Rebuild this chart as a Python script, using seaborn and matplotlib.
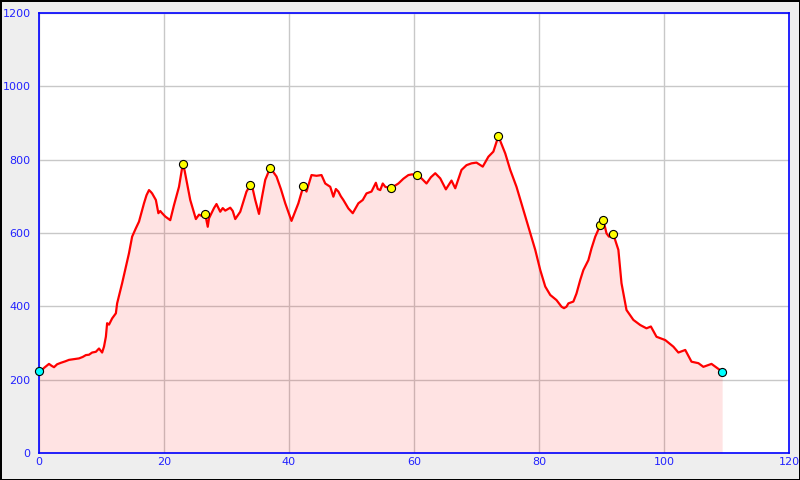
import matplotlib
matplotlib.use("Agg")
import matplotlib.pyplot as plt
import seaborn as sns
import pandas as pd

# Elevation profile
distance = [
    0.0, 0.3, 0.8, 1.6, 2.0, 2.4, 2.9, 3.5, 4.2, 4.8, 5.6, 6.4, 7.0, 7.5, 8.0,
    8.5, 9.1, 9.6, 10.1, 10.4, 10.7, 10.9, 11.2, 11.7, 12.3, 12.5, 13.3, 13.9,
    14.4, 14.9, 15.5, 16.0, 16.8, 17.2, 17.6, 17.9, 18.1, 18.7, 19.1, 19.4,
    19.7, 20.2, 20.6, 21.0, 21.6, 22.4, 23.0, 23.3, 24.2, 25.1, 25.6, 26.0,
    26.6, 27.0, 27.2, 27.6, 28.0, 28.4, 29.0, 29.4, 29.8, 30.2, 30.6, 31.0,
    31.4, 32.2, 33.2, 33.8, 34.2, 34.6, 35.2, 35.7, 36.2, 37.0, 38.0, 38.7,
    39.4, 40.4, 41.5, 42.3, 42.8, 43.6, 44.4, 45.2, 45.8, 46.6, 47.1, 47.5,
    47.9, 48.3, 48.7, 49.5, 50.2, 51.1, 51.8, 52.4, 53.2, 53.9, 54.2, 54.6,
    55.0, 55.4, 56.3, 57.5, 58.3, 59.1, 59.7, 60.5, 61.2, 62.0, 62.7, 63.4,
    64.2, 65.1, 66.0, 66.6, 67.6, 68.4, 69.2, 70.0, 71.0, 71.9, 72.7, 73.5,
    74.6, 75.4, 76.4, 77.5, 78.6, 79.4, 80.2, 81.0, 81.8, 82.8, 83.6, 84.0,
    84.4, 84.7, 85.5, 86.0, 86.6, 87.1, 87.9, 88.4, 89.0, 89.8, 90.3, 90.8,
    91.2, 91.9, 92.7, 93.2, 94.0, 95.1, 96.2, 97.2, 97.9, 98.8, 100.2, 101.5,
    102.3, 103.4, 104.4, 105.5, 106.3, 107.6, 108.5, 109.3,
]
elevation = [
    224, 222, 232, 243, 238, 234, 242, 246, 250, 254, 256, 258, 262, 267, 268,
    274, 276, 285, 274, 290, 317, 354, 350, 367, 381, 408, 463, 508,
    545, 590, 613, 631, 681, 703, 717, 712, 708, 690, 654, 660,
    654, 645, 640, 635, 676, 726, 788, 770, 690, 638, 650, 647,
    651, 617, 640, 654, 668, 679, 658, 668, 661, 665, 669, 660,
    638, 658, 713, 730, 720, 690, 652, 700, 745, 778, 754, 720,
    681, 633, 681, 728, 713, 758, 756, 758, 735, 726, 699, 720,
    713, 700, 690, 667, 654, 681, 690, 708, 713, 737, 720, 717,
    735, 726, 722, 735, 748, 758, 760, 757, 749, 735, 752, 763,
    749, 719, 743, 722, 772, 785, 790, 792, 781, 808, 822, 864,
    817, 772, 726, 663, 599, 554, 499, 454, 431, 417, 399, 395,
    399, 408, 413, 435, 472, 499, 526, 558, 590, 621, 635, 599,
    590, 596, 554, 463, 390, 363, 349, 340, 345, 317, 308, 290,
    274, 281, 249, 245, 235, 243, 232, 222,
]

# Waypoints (yellow) and start/end (cyan)
wp_x = [23.0, 26.6, 33.8, 37.0, 42.3, 56.3, 60.5, 73.5, 89.8, 90.3, 91.9]
wp_y = [788, 651, 730, 778, 728, 722, 757, 864, 621, 635, 596]
end_x = [0.0, 109.3]
end_y = [224, 222]

xticks = [0, 20, 40, 60, 80, 100, 120]
yticks = [0, 200, 400, 600, 800, 1000, 1200]

df = pd.DataFrame({"km": distance, "alt": elevation})

sns.set_style("white")
fig = plt.figure(figsize=(8, 4.8), dpi=100, facecolor="#eeeeee")
fig.patch.set_edgecolor("black")
fig.patch.set_linewidth(2)
ax = fig.add_axes([0.04875, 0.05625, 0.9375, 0.91667])
ax.set_facecolor("white")

ax.grid(True, color="#c8c8c8", linewidth=1, zorder=0.5)
ax.set_axisbelow(True)

ax.fill_between(df["km"], df["alt"], 0, color="#ff0000", alpha=0.11,
                linewidth=0, zorder=1)
sns.lineplot(data=df, x="km", y="alt", color="red", linewidth=1.6,
             ax=ax, zorder=2)
sns.scatterplot(x=wp_x, y=wp_y, color="#ffff00", edgecolor="black",
                linewidth=0.8, s=34, ax=ax, zorder=3)
sns.scatterplot(x=end_x, y=end_y, color="#00ffff", edgecolor="black",
                linewidth=0.8, s=34, ax=ax, zorder=3, clip_on=False)

ax.set_xlim(0, 120)
ax.set_ylim(0, 1200)
ax.set_xticks(xticks)
ax.set_yticks(yticks)
ax.set_xlabel("")
ax.set_ylabel("")

for s in ax.spines.values():
    s.set_color("blue")
    s.set_linewidth(1.2)
ax.tick_params(direction="in", length=5, width=1.2, color="blue",
               labelcolor="#2222ff", labelsize=8)
ax.tick_params(axis="y", pad=6)
ax.tick_params(axis="x", pad=3)

fig.savefig("out.png", dpi=100, facecolor=fig.get_facecolor(),
            edgecolor=fig.get_edgecolor())
